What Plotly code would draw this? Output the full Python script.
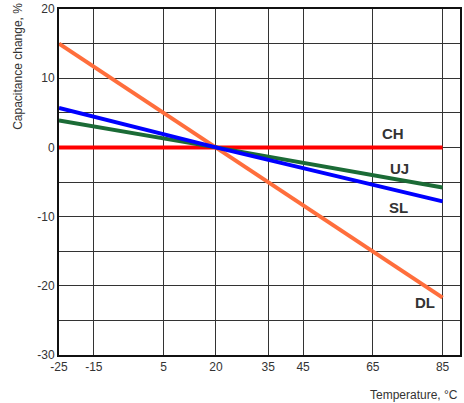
import plotly.graph_objects as go

temps = [-25, 20, 85]
ch = [0, 0, 0]
uj = [3.9, 0, -5.8]
sl = [5.7, 0, -7.8]
dl = [15, 0, -21.7]

x_ticks = [-25, -15, 5, 20, 35, 45, 65, 85]
y_ticks = [-30, -20, -10, 0, 10, 20]

series = [
    ("CH", ch, "#ff0000", 70.7, 2.0),
    ("UJ", uj, "#1b6b36", 72.6, -3.1),
    ("SL", sl, "#0000ff", 72.3, -8.7),
    ("DL", dl, "#ff6e3c", 80.1, -22.4),
]

narrow = "Liberation Sans Narrow, Arial Narrow, Liberation Sans"

fig = go.Figure()
order = ["DL", "CH", "UJ", "SL"]
for name in order:
    s = [t for t in series if t[0] == name][0]
    fig.add_trace(go.Scatter(x=temps, y=s[1], mode="lines", name=s[0],
                             line=dict(color=s[2], width=4), showlegend=False))

for name, vals, color, lx, ly in series:
    fig.add_annotation(x=lx, y=ly, text="<b>%s</b>" % name, showarrow=False,
                       font=dict(size=15, color="#333333", family="Liberation Sans"))

fig.add_annotation(xref="paper", yref="paper", x=-0.104, y=1.023, text="Capacitance change, %",
                   textangle=-90, showarrow=False, xanchor="center", yanchor="top",
                   font=dict(size=12, color="#333333", family=narrow))
fig.add_annotation(xref="paper", yref="paper", x=1.0, y=-0.09, text="Temperature, °C",
                   showarrow=False, xanchor="right", yanchor="top",
                   font=dict(size=12, color="#333333", family=narrow))

fig.update_xaxes(range=[-25, 90], tickvals=x_ticks, ticktext=[str(v) for v in x_ticks],
                 showgrid=True, gridcolor="#333333", gridwidth=1, zeroline=False,
                 showline=True, linecolor="#111111", linewidth=2, mirror=True,
                 ticks="", tickfont=dict(size=12, color="#333333", family=narrow))
fig.update_yaxes(range=[-30, 20], tickvals=y_ticks, ticktext=[str(v) for v in y_ticks],
                 showgrid=True, gridcolor="#333333", gridwidth=1, zeroline=False,
                 minor=dict(dtick=5, tick0=0, showgrid=True, gridcolor="#333333", gridwidth=1),
                 showline=True, linecolor="#111111", linewidth=2, mirror=True,
                 ticks="", tickfont=dict(size=12, color="#333333", family=narrow))

fig.update_layout(width=464, height=403, margin=dict(l=59, r=2, t=8, b=48),
                  plot_bgcolor="white", paper_bgcolor="white")

fig.write_html("out.html")
